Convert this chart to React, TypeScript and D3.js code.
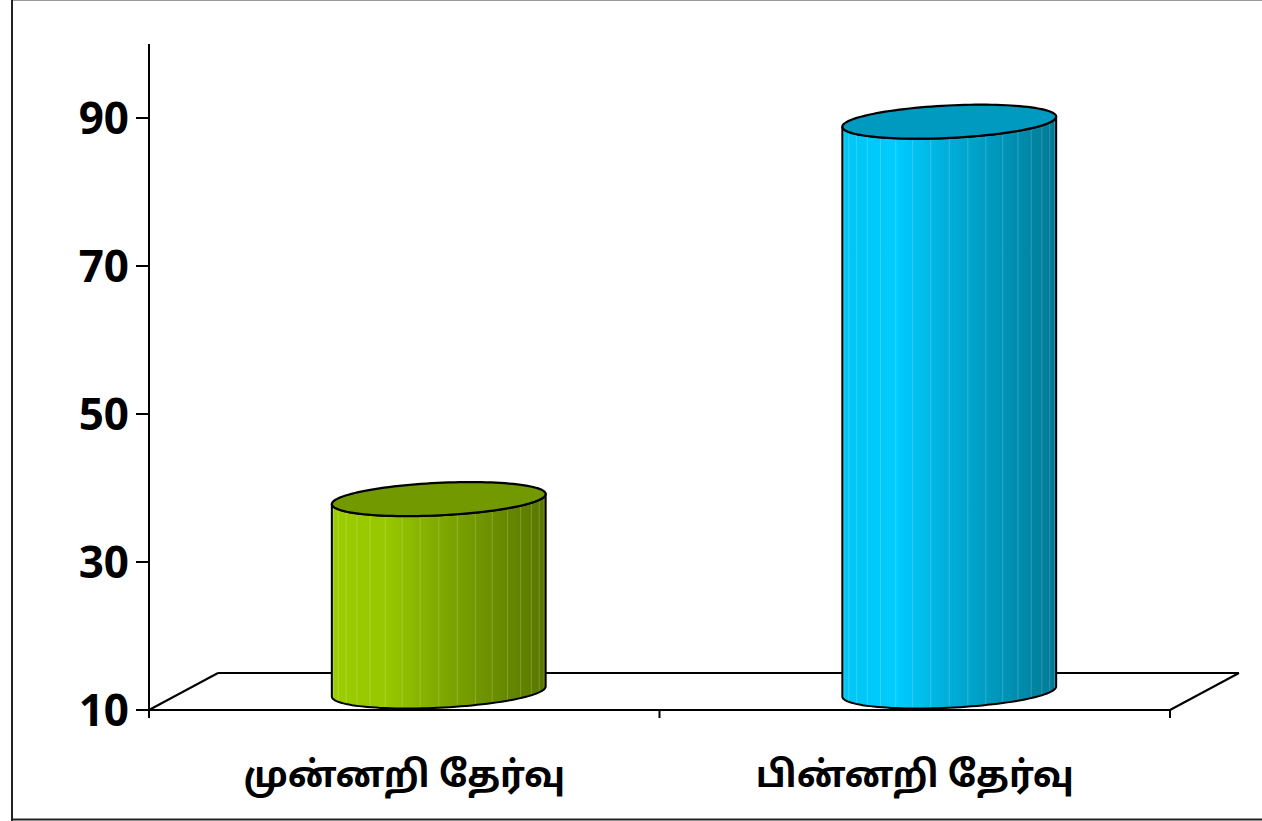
import { useMemo } from "react";
import * as d3 from "d3";

const categories = ["முன்னறி தேர்வு", "பின்னறி தேர்வு"];
const values = [36, 87];
const yTicks = [10, 30, 50, 70, 90];

const palettes = [
  { stops: ["#9ccd00", "#97c800", "#80aa00", "#6b8f00", "#587700"], top: "#729900" },
  { stops: ["#00c6f4", "#00ccff", "#00aed9", "#0094b8", "#007994"], top: "#0099c0" },
];

const W = 1262;
const H = 821;
const plot = { left: 149, right: 1170, top: 44, floor: 710 };
const depth = { dx: 69, dy: -37 };

function Cylinder({ cx, yBase, yTop, r, v, idx }: any) {
  const thR = Math.atan2(v.x, r);
  const pt = (th: number, cy: number): [number, number] => [
    cx + r * Math.cos(th) + v.x * Math.sin(th),
    cy + v.y * Math.sin(th),
  ];
  const n = 60;
  const frontArc = (cy: number, from: number, to: number) =>
    d3.range(n + 1).map((i) => pt(from + ((to - from) * i) / n, cy));

  const line = d3.line();
  const bottomFront = frontArc(yBase, thR, thR - Math.PI);
  const topFront = frontArc(yTop, thR - Math.PI, thR);
  const body =
    (line([pt(thR, yTop), ...bottomFront, ...topFront]) as string) + "Z";
  const topEllipse =
    (line(d3.range(121).map((i) => pt((i / 120) * Math.PI * 2, yTop))) as string) + "Z";

  const facets = d3.range(1, 18).map((i) => thR - (Math.PI * i) / 18);
  const gid = `cylGrad${idx}`;
  const p = palettes[idx];
  const [xl] = pt(thR - Math.PI, yTop);
  const [xr] = pt(thR, yTop);

  return (
    <g>
      <defs>
        <linearGradient id={gid} gradientUnits="userSpaceOnUse" x1={xl} x2={xr} y1={0} y2={0}>
          {p.stops.map((c, i) => (
            <stop key={i} offset={`${(i / (p.stops.length - 1)) * 100}%`} stopColor={c} />
          ))}
        </linearGradient>
      </defs>
      <path d={body} fill={`url(#${gid})`} stroke="none" />
      {facets.map((th, i) => {
        const [x1, y1] = pt(th, yTop);
        const [, y2] = pt(th, yBase);
        return (
          <line
            key={i}
            x1={x1}
            x2={x1}
            y1={y1}
            y2={y2}
            stroke="#ffffff"
            strokeOpacity={0.2}
            strokeWidth={1}
          />
        );
      })}
      <path d={body} fill="none" stroke="#000" strokeWidth={2} strokeLinejoin="round" />
      <path d={topEllipse} fill={p.top} stroke="#000" strokeWidth={2.2} />
    </g>
  );
}

export default function App() {
  const x = useMemo(
    () => d3.scaleBand<string>().domain(categories).range([plot.left, plot.right]).padding(0),
    []
  );
  const y = useMemo(
    () => d3.scaleLinear().domain([10, 100]).range([plot.floor, plot.top]),
    []
  );

  const bw = x.bandwidth();
  const r = bw * 0.2;
  const frac = 0.46;
  const v = { x: depth.dx * frac, y: depth.dy * frac };
  const backY = plot.floor + depth.dy;

  return (
    <svg
      width={W}
      height={H}
      style={{ position: "absolute", left: 0, top: 0, background: "#fff" }}
    >
      {/* frame */}
      <line x1={11} x2={W} y1={0.5} y2={0.5} stroke="#999" strokeWidth={1} />
      <line x1={12} x2={12} y1={0} y2={H} stroke="#222" strokeWidth={2} />
      <line x1={11} x2={W} y1={819.5} y2={819.5} stroke="#222" strokeWidth={2} />

      {/* floor */}
      <g stroke="#000" strokeWidth={2} fill="none">
        <line x1={plot.left} x2={plot.right} y1={plot.floor} y2={plot.floor} />
        <line
          x1={plot.left + depth.dx}
          x2={plot.right + depth.dx}
          y1={backY}
          y2={backY}
        />
        <line x1={plot.left} y1={plot.floor} x2={plot.left + depth.dx} y2={backY} />
        <line x1={plot.right} y1={plot.floor} x2={plot.right + depth.dx} y2={backY} />
        {[...categories.map((c) => x(c) as number), plot.right].map((xv, i) => (
          <line key={i} x1={xv} x2={xv} y1={plot.floor} y2={plot.floor + 8} />
        ))}
      </g>

      {/* value axis */}
      <g>
        <line x1={plot.left} x2={plot.left} y1={plot.top} y2={plot.floor + 8} stroke="#000" strokeWidth={2} />
        {yTicks.map((t) => (
          <g key={t} transform={`translate(0,${y(t)})`}>
            <line x1={plot.left - 13} x2={plot.left} stroke="#000" strokeWidth={2} />
            <text
              x={plot.left - 20}
              dy="0.36em"
              textAnchor="end"
              fontFamily="'Noto Sans', 'Liberation Sans', sans-serif"
              fontWeight="bold"
              fontSize={44}
              fill="#000"
            >
              {t}
            </text>
          </g>
        ))}
      </g>

      {/* cylinders */}
      {categories.map((c, i) => {
        const cx = (x(c) as number) + bw / 2 + depth.dx / 2;
        const base = plot.floor + depth.dy / 2;
        const top = base - (y(10) - y(values[i]));
        return <Cylinder key={c} cx={cx} yBase={base} yTop={top} r={r} v={v} idx={i} />;
      })}

      {/* category labels */}
      {categories.map((c) => (
        <text
          key={c}
          x={(x(c) as number) + bw / 2}
          y={787}
          textAnchor="middle"
          fontFamily="'Noto Sans Tamil', 'Lohit Tamil', 'Latha', 'Noto Sans', sans-serif"
          fontWeight="bold"
          fontSize={36}
          fill="#000"
        >
          {c}
        </text>
      ))}
    </svg>
  );
}
